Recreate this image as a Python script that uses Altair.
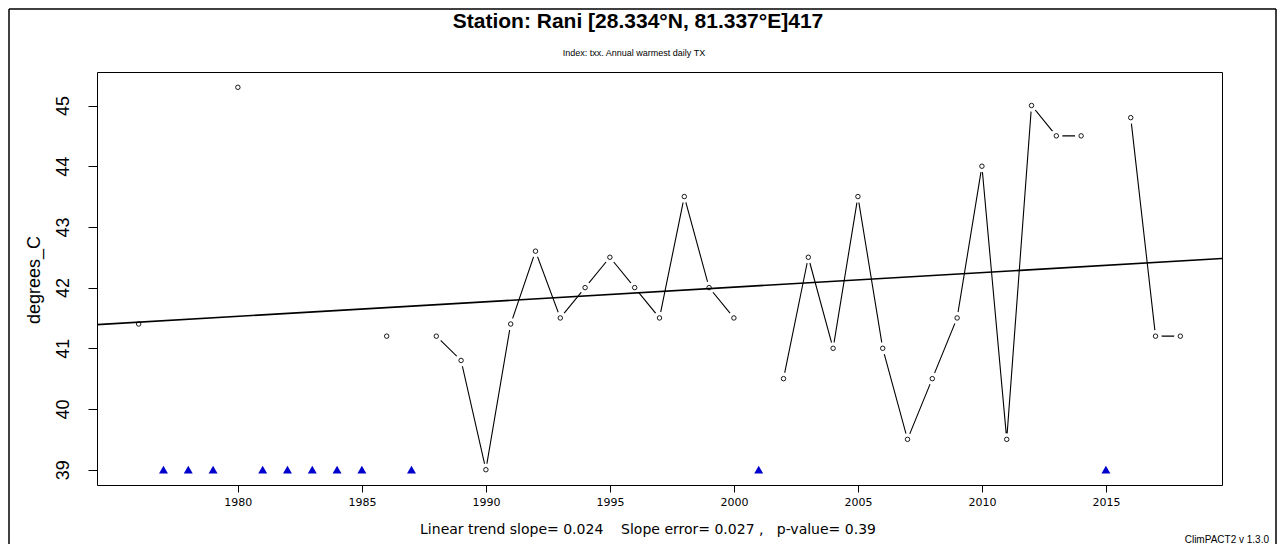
import altair as alt
import pandas as pd

# ---- data ----
years = list(range(1976, 2019))
values = [41.4, None, None, None, 45.3, None, None, None, None, None, 41.2, None,
          41.2, 40.8, 39.0, 41.4, 42.6, 41.5, 42.0, 42.5, 42.0, 41.5, 43.5, 42.0, 41.5,
          None, 40.5, 42.5, 41.0, 43.5, 41.0, 39.5, 40.5, 41.5, 44.0, 39.5, 45.0, 44.5, 44.5,
          None, 44.8, 41.2, 41.2]
missing_marker_value = 39.0

trend_years = [1974.32, 2019.68]
trend_values = [41.39, 42.48]

x_ticks = [1980, 1985, 1990, 1995, 2000, 2005, 2010, 2015]
y_ticks = [39, 40, 41, 42, 43, 44, 45]

NB = "\u00a0"
title_text = "Station: Rani [28.334°N, 81.337°E]417"
subtitle_text = "Index: txx. Annual warmest daily TX"
bottom_text = ("Linear trend slope= 0.024" + NB * 4 + "Slope error= 0.027 ," + NB * 3
               + "p-value= 0.39")
credit_text = "ClimPACT2 v 1.3.0"

# ---- tables ----
rows, seg = [], 0
for yr, v in zip(years, values):
    if v is None:
        seg += 1
    else:
        rows.append({"year": yr, "value": v, "seg": seg})
obs = pd.DataFrame(rows)
miss = pd.DataFrame({"year": [y for y, v in zip(years, values) if v is None]})
miss["value"] = missing_marker_value
trend = pd.DataFrame({"year": trend_years, "value": trend_values})

W, H = 1125, 413
xs = alt.Scale(domain=[1974.32, 2019.68], nice=False, zero=False)
ys = alt.Scale(domain=[38.748, 45.552], nice=False, zero=False)

xaxis = alt.Axis(values=x_ticks, format="d", title=None, grid=False, domain=False,
                 tickColor="black", tickSize=7, tickWidth=1,
                 labelFont="DejaVu Sans", labelFontSize=11, labelColor="black",
                 labelPadding=4)
yaxis = alt.Axis(values=y_ticks, format="d", title=None, grid=False, domain=False,
                 tickColor="black", tickSize=9, tickWidth=1,
                 labelFont="Liberation Sans Narrow, Liberation Sans", labelFontSize=18,
                 labelColor="black", labelAngle=270, labelAlign="center",
                 labelBaseline="alphabetic", labelPadding=20)

X = alt.X("year:Q", scale=xs, axis=xaxis)
Y = alt.Y("value:Q", scale=ys, axis=yaxis)

series = alt.Chart(obs).mark_line(color="black", strokeWidth=1.1).encode(
    x=X, y=Y, detail="seg:N")
mask = alt.Chart(obs).mark_point(shape="circle", filled=True, color="white",
                                 opacity=1, size=150).encode(x=X, y=Y)
pts = alt.Chart(obs).mark_point(shape="circle", filled=False, color="black",
                                strokeWidth=0.9, opacity=1, size=20).encode(x=X, y=Y)
trend_line = alt.Chart(trend).mark_line(color="black", strokeWidth=1.6, clip=True).encode(
    x=X, y=Y)
tri = alt.Chart(miss).mark_point(shape="triangle-up", filled=True, color="#0000CC",
                                 opacity=1, size=80).encode(x=X, y=Y)

one = alt.Data(values=[{"a": 1}])

def txt(text, x, y, size, font="Liberation Sans", weight="normal", align="center",
        angle=0, baseline="middle"):
    return alt.Chart(one).mark_text(text=text, font=font, fontSize=size,
                                    fontWeight=weight, align=align, angle=angle,
                                    baseline=baseline, color="black").encode(
        x=alt.value(x), y=alt.value(y))

title = txt(title_text, 541, -50, 21, weight="bold")
subtitle = txt(subtitle_text, 537, -19, 9)
ytitle = txt("degrees_C", -62, 208, 18, font="Liberation Sans Narrow, Liberation Sans",
             angle=270)
bottom = txt(bottom_text, 551, 458, 14, font="DejaVu Sans")
credit = txt(credit_text, 1172, 471, 10, align="right", baseline="alphabetic")

frame_l = alt.Chart(one).mark_rule(color="black", strokeWidth=1.5).encode(
    x=alt.value(-88), y=alt.value(-63), y2=alt.value(472))
frame_t = alt.Chart(one).mark_rule(color="black", strokeWidth=1.5).encode(
    x=alt.value(-88), x2=alt.value(1179), y=alt.value(-63))
frame_r = alt.Chart(one).mark_rule(color="black", strokeWidth=1.5).encode(
    x=alt.value(1179), y=alt.value(-63), y2=alt.value(472))

chart = alt.layer(
    series, mask, pts, trend_line, tri,
    title, subtitle, ytitle, bottom, credit, frame_l, frame_t, frame_r
).properties(
    width=W, height=H,
    autosize=alt.AutoSizeParams(type="none"),
    padding={"left": 89, "top": 64, "right": 55, "bottom": 59},
    background="white",
).configure_view(stroke="black", strokeWidth=1)

chart.save("out.html", embed_options={"renderer": "svg", "actions": False})
